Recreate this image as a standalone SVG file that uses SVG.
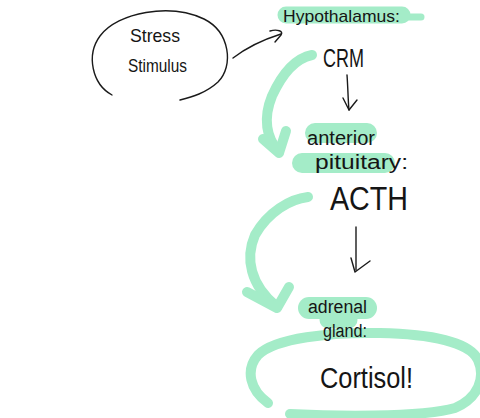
<svg xmlns="http://www.w3.org/2000/svg" width="480" height="418" viewBox="0 0 480 418">
<style>
.bg{fill:#ffffff}
.ink{fill:none;stroke:#1a1a1a;stroke-width:1.4;stroke-linecap:round;stroke-linejoin:round}
.hl{fill:none;stroke:#a4ecc8;stroke-linecap:round;stroke-linejoin:round}
.garrow{fill:none;stroke:#a4ecc8;stroke-width:10;stroke-linecap:round;stroke-linejoin:round}
.t{font-family:"Liberation Sans","DejaVu Sans",sans-serif;fill:#151515}
</style>
<rect class="bg" x="0" y="0" width="480" height="418"/>

<g id="stress">
  <path class="ink" d="M112,95 C92,84 86,55 100,36 C118,12 170,3 204,19 C230,32 234,66 218,82 C206,93 192,97 180,100"/>
  <text class="t" x="130" y="42" font-size="19" textLength="50" lengthAdjust="spacingAndGlyphs">Stress</text>
  <text class="t" x="128" y="72" font-size="19" textLength="59" lengthAdjust="spacingAndGlyphs">Stimulus</text>
</g>

<g id="hypothalamus">
  <path class="hl" stroke-width="17" d="M286,15 L402,15"/>
  <path class="hl" stroke-width="7" d="M400,17 L421,17"/>
  <text class="t" x="283" y="22" font-size="17" textLength="117" lengthAdjust="spacingAndGlyphs">Hypothalamus:</text>
</g>

<g id="crm">
  <text class="t" x="323" y="67" font-size="26" textLength="41" lengthAdjust="spacingAndGlyphs">CRM</text>
</g>

<g id="anterior-pituitary">
  <path class="hl" stroke-width="20" d="M315,133 L367,133"/>
  <path class="hl" stroke-width="20" d="M302,163 L385,163"/>
  <text class="t" x="307" y="145" font-size="20" textLength="68" lengthAdjust="spacingAndGlyphs">anterior</text>
  <text class="t" x="315" y="169" font-size="20" textLength="93" lengthAdjust="spacingAndGlyphs">pituitary:</text>
</g>

<g id="acth">
  <text class="t" x="330" y="210" font-size="34" textLength="78" lengthAdjust="spacingAndGlyphs">ACTH</text>
</g>

<g id="cortisol">
  <path class="hl" stroke-width="10" d="M268,403 C250,390 245,370 258,355 C275,338 330,332 380,333 C430,334 470,342 478,360 C486,378 478,398 455,408 C420,418 330,416 290,414"/>
  <text class="t" x="320" y="388" font-size="30" textLength="93" lengthAdjust="spacingAndGlyphs">Cortisol!</text>
</g>

<g id="adrenal">
  <path class="hl" stroke-width="22" d="M309,308 L366,308"/>
  <path class="hl" stroke-width="17" d="M328,320 L349,320"/>
  <text class="t" x="308" y="313" font-size="18" textLength="59" lengthAdjust="spacingAndGlyphs">adrenal</text>
  <text class="t" x="323" y="337" font-size="18" textLength="44" lengthAdjust="spacingAndGlyphs">gland:</text>
</g>

<g id="connectors">
  <path class="ink" d="M233,58 C246,48 262,40 281,34"/>
  <path class="ink" d="M270,31 C277,29 284,31 281,35 L275,42"/>
  <path class="ink" d="M347,75 C348,88 348,100 349,110"/>
  <path class="ink" d="M343,98 L349,110 L357,100"/>
  <path class="ink" d="M356,227 L356,270"/>
  <path class="ink" d="M351,258 L355,272 L370,261"/>
  <path class="garrow" d="M312,55 C297,58 283,72 272,96 C263,118 266,138 279,152"/>
  <path class="garrow" d="M263,139 L279,153 L286,131"/>
  <path class="garrow" d="M308,197 C290,199 268,212 255,235 C245,258 250,285 277,307"/>
  <path class="garrow" d="M247,292 L277,308 L289,287"/>
</g>
</svg>
